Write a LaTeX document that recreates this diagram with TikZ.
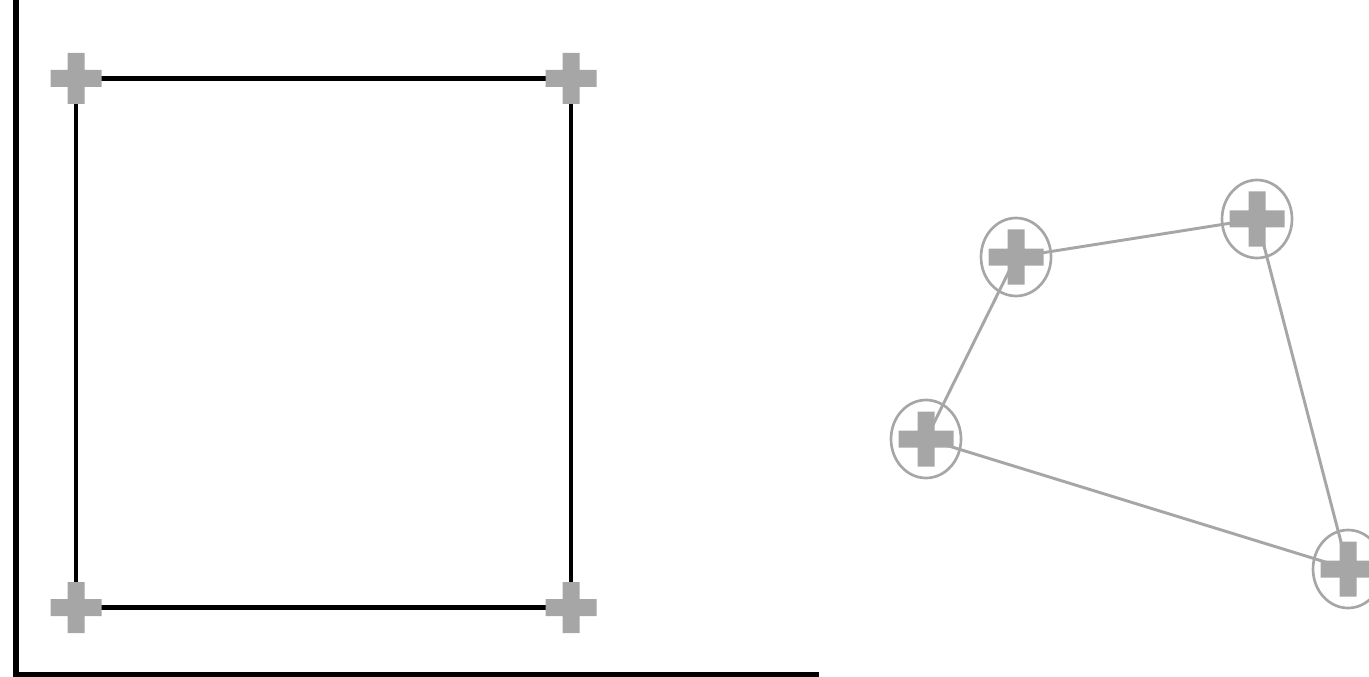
\documentclass[tikz,border=0pt]{standalone}
\usepackage{xcolor}
\definecolor{markgray}{RGB}{166,166,166}
\tikzset{
  axisline/.style={line width=4.5pt, line cap=rect},
  edgeline/.style={line width=3.6pt},
  quadline/.style={draw=markgray, line width=2.2pt},
  ringmark/.style={draw=markgray, line width=2pt},
}
% plus-shaped marker at a named point: [half arm length]{point}
\newcommand{\plusmark}[2][25.5]{%
  \fill[markgray, shift={(#2)}] (-#1,-8.5) rectangle (#1,8.5) (-8.5,-#1) rectangle (8.5,#1);}

\begin{document}
\begin{tikzpicture}[x=0.75pt,y=0.75pt,yscale=-1,xscale=1]
\useasboundingbox (0,0) rectangle (1369,677);
\clip (0,0) rectangle (1369,677);

%Axes
\coordinate (origin) at (16,674.5);
\coordinate (ytop) at (16,0);
\coordinate (xend) at (816,674.5);
\draw[axisline] (ytop) -- (origin) -- (xend);

%Square corners
\coordinate (sqTL) at (76,78.5);
\coordinate (sqTR) at (571,78.5);
\coordinate (sqBR) at (571,607.5);
\coordinate (sqBL) at (76,607.5);
\draw[edgeline] (sqTL) -- (sqTR) -- (sqBR) -- (sqBL) -- cycle;
\plusmark{sqTL} \plusmark{sqTR} \plusmark{sqBR} \plusmark{sqBL}

%Distorted quadrilateral
\coordinate (qA) at (1016,257);
\coordinate (qB) at (1257,219);
\coordinate (qC) at (1348,569);
\coordinate (qD) at (926,439);
\draw[quadline] (qA) -- (qB) -- (qC) -- (qD) -- cycle;
\foreach \p in {qA,qB,qC,qD}{
  \draw[ringmark] (\p) ellipse [x radius=35, y radius=39];
  \plusmark[27.5]{\p}
}

\end{tikzpicture}
\end{document}
